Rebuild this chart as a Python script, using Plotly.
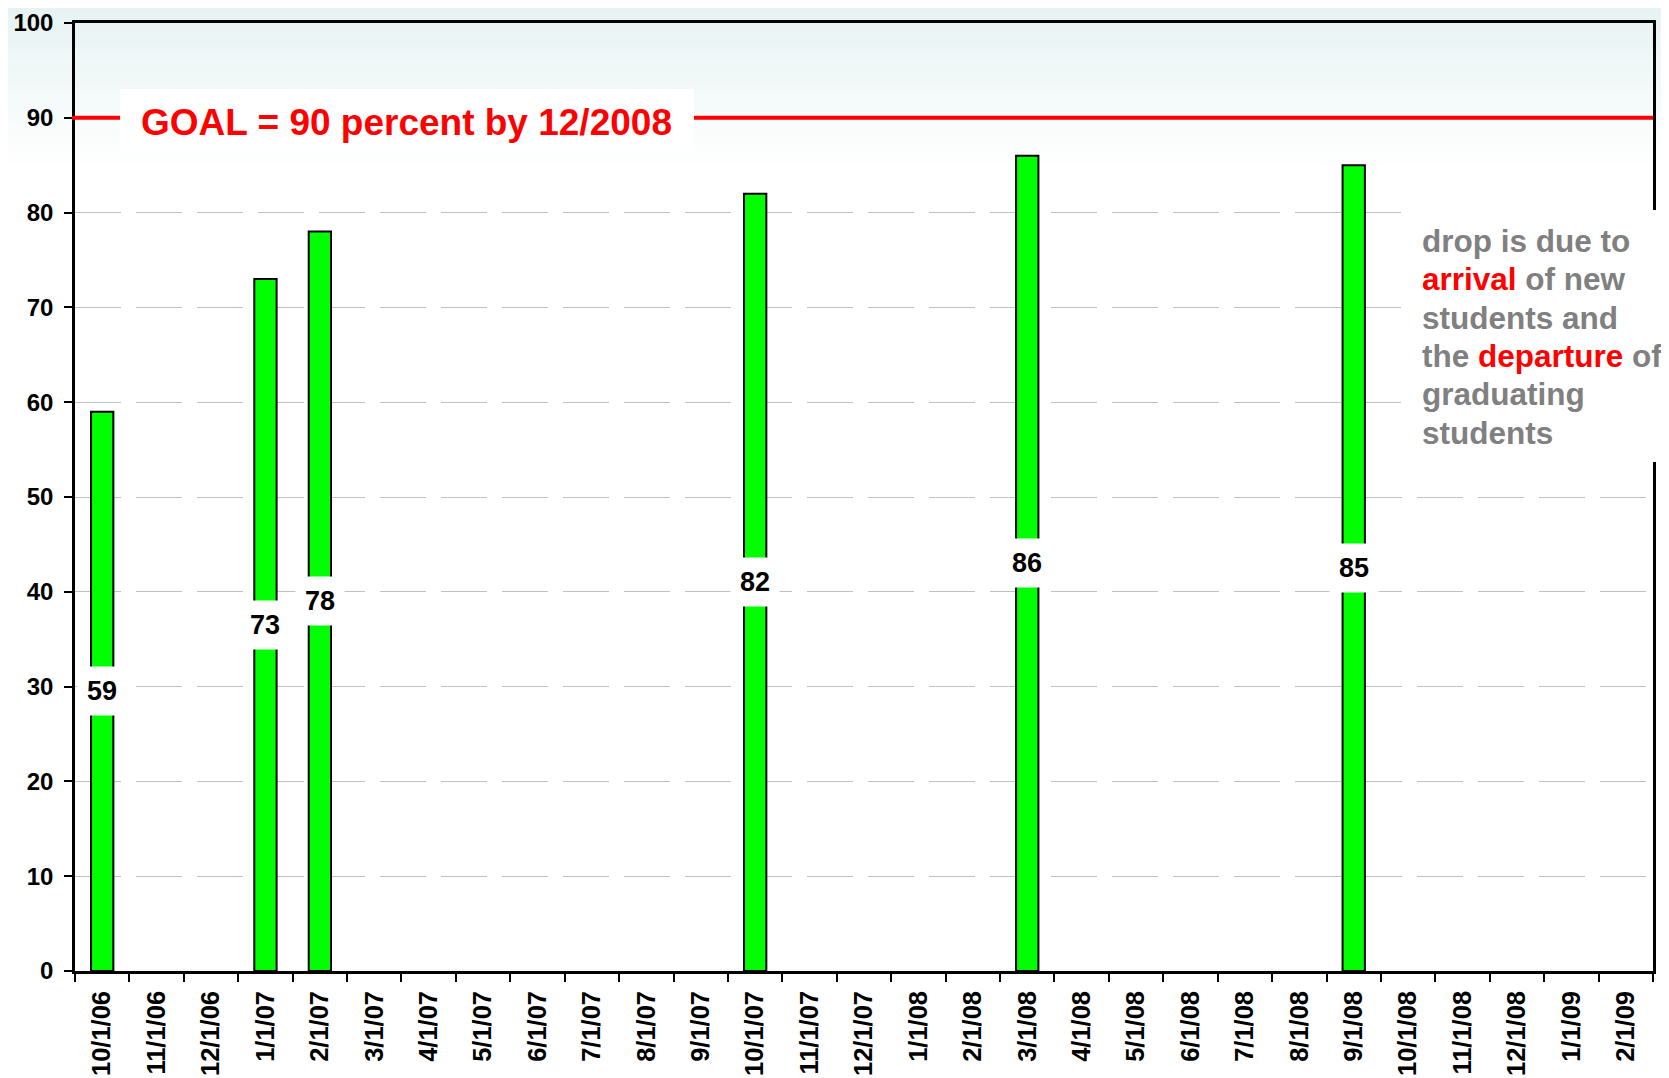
import plotly.graph_objects as go

# ---- data ----
categories = ["10/1/06", "11/1/06", "12/1/06",
              "1/1/07", "2/1/07", "3/1/07", "4/1/07", "5/1/07", "6/1/07",
              "7/1/07", "8/1/07", "9/1/07", "10/1/07", "11/1/07", "12/1/07",
              "1/1/08", "2/1/08", "3/1/08", "4/1/08", "5/1/08", "6/1/08",
              "7/1/08", "8/1/08", "9/1/08", "10/1/08", "11/1/08", "12/1/08",
              "1/1/09", "2/1/09"]
values = [59, None, None,
          73, 78, None, None, None, None,
          None, None, None, 82, None, None,
          None, None, 86, None, None, None,
          None, None, 85, None, None, None,
          None, None]
goal_value = 90
y_ticks = [0, 10, 20, 30, 40, 50, 60, 70, 80, 90, 100]
goal_text = "GOAL = 90 percent by 12/2008"
note_lines = ["drop is due to",
              "<span style='color:#ff0000'>arrival</span> of new",
              "students and",
              "the <span style='color:#ff0000'>departure</span> of",
              "graduating",
              "students"]

# ---- geometry (page pixels; page body has an 8px margin) ----
W, H = 1669, 1078
OFF = 8
PL, PR, PT, PB = 75, 1653, 23, 971  # plot area in page pixels
PW = PR - PL
PH = PB - PT


def px_x(p):
    return (p - PL) / PW


def px_y(p):
    return (PB - p) / PH


FONT = "Liberation Sans, Arial, sans-serif"

fig = go.Figure()
fig.add_trace(go.Bar(
    x=categories, y=values,
    marker=dict(color="#00ff00", line=dict(color="#000000", width=2)),
    hoverinfo="x+y",
))

shapes = []
# background gradient at top
top_col = (230, 242, 242)
n = 26
grad_end = 170
for i in range(n):
    t = i / (n - 1)
    c = tuple(int(round(top_col[k] + (255 - top_col[k]) * t)) for k in range(3))
    y0p = grad_end * i / n
    y1p = grad_end * (i + 1) / n + 1
    shapes.append(dict(type="rect", xref="paper", yref="paper",
                       x0=px_x(0), x1=px_x(W), y0=px_y(y1p), y1=px_y(y0p),
                       fillcolor="rgb(%d,%d,%d)" % c, line=dict(width=0),
                       layer="below"))
# goal line
shapes.append(dict(type="line", xref="paper", yref="y",
                   x0=px_x(72), x1=1, y0=goal_value, y1=goal_value,
                   line=dict(color="#ff0000", width=4), layer="above"))
# white boxes behind texts
shapes.append(dict(type="rect", xref="paper", yref="paper",
                   x0=px_x(120), x1=px_x(694), y0=px_y(153), y1=px_y(89),
                   fillcolor="#ffffff", line=dict(width=0), layer="above"))
shapes.append(dict(type="rect", xref="paper", yref="paper",
                   x0=px_x(1401), x1=px_x(W + 5), y0=px_y(462), y1=px_y(210),
                   fillcolor="#ffffff", line=dict(width=0), layer="above"))

annotations = []
annotations.append(dict(x=px_x(406), y=px_y(122), xref="paper", yref="paper",
                        text="<b>" + goal_text + "</b>", showarrow=False,
                        font=dict(family=FONT, size=37, color="#ff0000"),
                        xanchor="center", yanchor="middle"))
line_h = 38.3
first_y = 241
for i, ln in enumerate(note_lines):
    annotations.append(dict(x=px_x(1420), y=px_y(first_y + i * line_h),
                            xref="paper", yref="paper",
                            text="<b>" + ln + "</b>", showarrow=False, align="left",
                            font=dict(family=FONT, size=31.5, color="#808080"),
                            xanchor="left", yanchor="middle"))
for c, v in zip(categories, values):
    if v is None:
        continue
    annotations.append(dict(x=c, y=v / 2, xref="x", yref="y",
                            text="<b>%d</b>" % v, showarrow=False,
                            font=dict(family=FONT, size=27, color="#000000"),
                            bgcolor="#ffffff", borderpad=9,
                            xanchor="center", yanchor="middle"))

fig.update_layout(
    width=W - OFF, height=H - OFF,
    margin=dict(l=PL - OFF, r=W - PR, t=PT - OFF, b=H - PB, pad=0),
    paper_bgcolor="#ffffff",
    plot_bgcolor="rgba(0,0,0,0)",
    showlegend=False,
    bargap=0.59,
    shapes=shapes,
    annotations=annotations,
    font=dict(family=FONT),
)
fig.update_xaxes(
    type="category", categoryorder="array", categoryarray=categories,
    tickson="boundaries", ticks="outside", ticklen=8, tickwidth=2, tickcolor="#000000",
    tickangle=-90, tickfont=dict(family=FONT, size=25.5, color="#000000", weight="bold"),
    showline=True, linecolor="#000000", linewidth=2.5, mirror=True,
    showgrid=False, ticklabelstandoff=7, automargin=False,
)
fig.update_yaxes(
    range=[0, 100], tickvals=y_ticks, ticks="outside", ticklen=8, tickwidth=2,
    tickcolor="#000000",
    tickfont=dict(family=FONT, size=24, color="#000000", weight="bold"),
    showline=True, linecolor="#000000", linewidth=2.5, mirror=True,
    showgrid=True, gridcolor="#c0c0c0", gridwidth=1.2, griddash="46px,15px",
    zeroline=False, ticklabelstandoff=6, automargin=False,
)

fig.write_html("out.html")
